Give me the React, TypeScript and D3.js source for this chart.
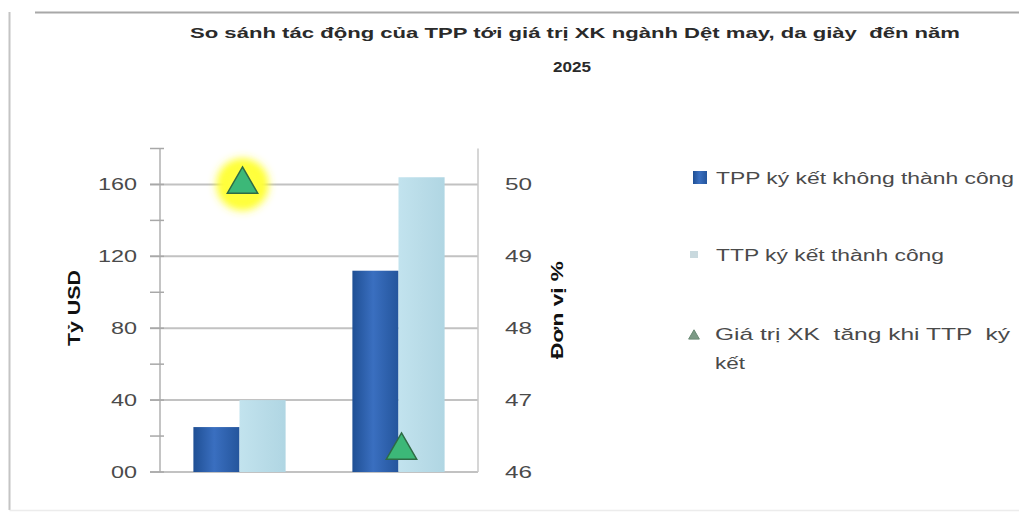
import React from "react";
import * as d3 from "d3";

const categories = ["Dệt may", "Da giày"];
const seriesNames = ["TPP ký kết không thành công", "TTP ký kết thành công"];
const notSuccess = [25, 112];
const success = [40, 164];
const increase = [50, 46.3];
const leftTickLabels = ["00", "40", "80", "120", "160"];
const leftTickValues = [0, 40, 80, 120, 160];
const leftMinorTicks = [0, 20, 40, 60, 80, 100, 120, 140, 160, 180];
const rightTickValues = [46, 47, 48, 49, 50];
const titleLines = ["So sánh tác động của TPP tới giá trị XK ngành Dệt may, da giày  đến năm", "2025"];
const legendThird = ["Giá trị XK  tăng khi TTP  ký", "kết"];

const W = 1019;
const H = 520;
const plot = { left: 160, right: 478, top: 148.5, bottom: 472 };
const FONT = "'Liberation Sans', Arial, sans-serif";
const pre = { whiteSpace: "pre" as const };

export default function App() {
  const x = d3.scaleBand<string>().domain(categories).range([plot.left, plot.right]).paddingInner(0).paddingOuter(0);
  const groupW = x.bandwidth() * 0.58;
  const xs = d3.scaleBand<number>().domain([0, 1]).range([0, groupW]).padding(0);
  const yL = d3.scaleLinear().domain([0, 180]).range([plot.bottom, plot.top]);
  const yR = d3.scaleLinear().domain([46, 50.5]).range([plot.bottom, plot.top]);
  const tri = d3.symbol().type(d3.symbolTriangle).size(400);
  const triSmall = d3.symbol().type(d3.symbolTriangle).size(50);

  const series = [notSuccess, success];
  const fills = ["url(#darkGrad)", "url(#lightGrad)"];

  return (
    <svg width={W} height={H} style={{ position: "absolute", left: 0, top: 0 }}>
      <defs>
        <linearGradient id="darkGrad" x1="0" x2="1" y1="0" y2="0">
          <stop offset="0" stopColor="#1f4f94" />
          <stop offset="0.45" stopColor="#3a6fc0" />
          <stop offset="1" stopColor="#24559c" />
        </linearGradient>
        <linearGradient id="lightGrad" x1="0" x2="1" y1="0" y2="0">
          <stop offset="0" stopColor="#c2e3ee" />
          <stop offset="0.5" stopColor="#b9dce8" />
          <stop offset="1" stopColor="#b0d6e3" />
        </linearGradient>
        <filter id="glow" x="-50%" y="-50%" width="200%" height="200%">
          <feGaussianBlur stdDeviation="4" />
        </filter>
      </defs>
      <rect x={0} y={0} width={W} height={H} fill="#ffffff" />
      {/* outer frame */}
      <line x1={9.5} x2={9.5} y1={12} y2={510} stroke="#c4c4c4" strokeWidth={2} />
      <line x1={35} x2={W} y1={12.5} y2={12.5} stroke="#a8a8a8" strokeWidth={2} />
      <line x1={9.5} x2={W} y1={510.5} y2={510.5} stroke="#ececec" strokeWidth={1.5} />

      {/* title */}
      <text x={575} y={38} textAnchor="middle" fontFamily={FONT} fontSize={15} fontWeight="bold" fill="#2a2a2a" style={pre}
        textLength={770} lengthAdjust="spacingAndGlyphs">{titleLines[0]}</text>
      <text x={572} y={72} textAnchor="middle" fontFamily={FONT} fontSize={15} fontWeight="bold" fill="#2a2a2a"
        textLength={38} lengthAdjust="spacingAndGlyphs">{titleLines[1]}</text>

      {/* gridlines */}
      {leftTickValues.map((v) => (
        <line key={"g" + v} x1={plot.left - 10} x2={plot.right} y1={yL(v)} y2={yL(v)} stroke="#c2c2c2" strokeWidth={2} />
      ))}
      {/* left axis */}
      <line x1={plot.left} x2={plot.left} y1={plot.top} y2={plot.bottom} stroke="#b0b0b0" strokeWidth={1.5} />
      {leftMinorTicks.map((v) => (
        <line key={"t" + v} x1={plot.left - 10} x2={plot.left + 4} y1={yL(v)} y2={yL(v)} stroke="#a8a8a8" strokeWidth={1.5} />
      ))}
      {leftTickValues.map((v, i) => (
        <text key={"l" + v} x={137} y={yL(v) + 6} textAnchor="end" fontFamily={FONT} fontSize={16} fill="#4a4a4a"
          textLength={leftTickLabels[i].length * 13} lengthAdjust="spacingAndGlyphs">{leftTickLabels[i]}</text>
      ))}
      {/* right axis */}
      <line x1={plot.right} x2={plot.right} y1={plot.top} y2={plot.bottom} stroke="#c8c8c8" strokeWidth={1.5} />
      {rightTickValues.map((v) => (
        <text key={"r" + v} x={505} y={yR(v) + 6} textAnchor="start" fontFamily={FONT} fontSize={16} fill="#4a4a4a"
          textLength={27} lengthAdjust="spacingAndGlyphs">{String(v)}</text>
      ))}

      {/* axis titles */}
      <text transform={`translate(80,308) rotate(-90)`} textAnchor="middle" fontFamily={FONT} fontSize={16} fontWeight="bold" fill="#111"
        textLength={76} lengthAdjust="spacingAndGlyphs">Tỷ USD</text>
      <text transform={`translate(563,310) rotate(-90)`} textAnchor="middle" fontFamily={FONT} fontSize={16} fontWeight="bold" fill="#111"
        textLength={98} lengthAdjust="spacingAndGlyphs">Đơn vị %</text>

      {/* bars */}
      {categories.map((c, ci) => {
        const gx = (x(c) as number) + (x.bandwidth() - groupW) / 2;
        return series.map((s, si) => (
          <rect key={c + si} x={gx + (xs(si) as number)} y={yL(s[ci])} width={xs.bandwidth()} height={plot.bottom - yL(s[ci])}
            fill={fills[si]} />
        ));
      })}

      {/* triangle series on right axis */}
      {categories.map((c, ci) => {
        const cx = (x(c) as number) + x.bandwidth() / 2 + 3;
        const cy = yR(increase[ci]);
        return (
          <g key={"tri" + c} transform={`translate(${cx},${cy})`}>
            {ci === 0 && <circle r={26} fill="#ffff30" filter="url(#glow)" />}
            {ci === 0 && <circle r={19} fill="#ffff40" filter="url(#glow)" />}
            <path d={tri() as string} fill="#3cb878" stroke="#2e6b45" strokeWidth={1.5} />
          </g>
        );
      })}

      {/* legend */}
      <rect x={693} y={171} width={14} height={13} fill="url(#darkGrad)" />
      <text x={716} y={184} fontFamily={FONT} fontSize={16} fill="#4a4a4a" textLength={298} lengthAdjust="spacingAndGlyphs">{seriesNames[0]}</text>
      <rect x={690} y={251} width={8} height={7} fill="#c9d9de" />
      <text x={716} y={261} fontFamily={FONT} fontSize={16} fill="#4a4a4a" textLength={228} lengthAdjust="spacingAndGlyphs">{seriesNames[1]}</text>
      <path d={triSmall() as string} transform="translate(694,336)" fill="#7c9a86" stroke="#6a8a75" />
      <text x={715} y={340} fontFamily={FONT} fontSize={17} fill="#4a4a4a" style={pre} textLength={295} lengthAdjust="spacingAndGlyphs">{legendThird[0]}</text>
      <text x={715} y={369} fontFamily={FONT} fontSize={17} fill="#4a4a4a" textLength={30} lengthAdjust="spacingAndGlyphs">{legendThird[1]}</text>
    </svg>
  );
}
